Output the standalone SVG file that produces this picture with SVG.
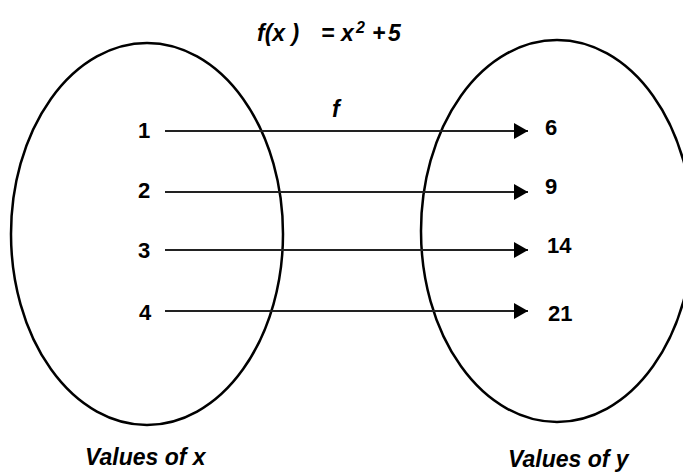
<svg xmlns="http://www.w3.org/2000/svg" width="683" height="473" viewBox="0 0 683 473">
<defs>
<marker id="ah" markerWidth="14" markerHeight="16" refX="14" refY="8" orient="auto" markerUnits="userSpaceOnUse">
<path d="M0,0 L14,8 L0,16 Z" fill="#000"/>
</marker>
<style>
.set{fill:none;stroke:#000;stroke-width:2.5}
.num{font-family:"Liberation Sans",Arial,sans-serif;font-weight:bold;font-size:22px;fill:#000}
.lab{font-family:"Liberation Sans",Arial,sans-serif;font-weight:bold;font-style:italic;font-size:23px;fill:#000}
.ttl{font-family:"Liberation Sans",Arial,sans-serif;font-weight:bold;font-style:italic;font-size:23px;fill:#000}
.sup{font-size:16px}
.conn{stroke:#222;stroke-width:2;fill:none;marker-end:url(#ah)}
</style>
</defs>
<rect width="683" height="473" fill="#fff"/>
<g id="title">
<text class="ttl" x="257" y="41">f(x )</text>
<text class="ttl" x="321" y="41">=</text>
<text class="ttl" x="341" y="41">x</text>
<text class="ttl sup" x="356" y="33">2</text>
<text class="ttl" x="372" y="41">+</text>
<text class="ttl" x="388" y="41">5</text>
</g>
<g id="setX">
<ellipse class="set" cx="147" cy="234" rx="136" ry="191"/>
<text class="lab" x="85" y="465">Values of x</text>
</g>
<g id="setY">
<ellipse class="set" cx="557" cy="231" rx="136" ry="191"/>
<text class="lab" x="508" y="467">Values of y</text>
</g>
<g id="x1"><text class="num" x="138" y="138">1</text></g>
<g id="x2"><text class="num" x="138" y="198">2</text></g>
<g id="x3"><text class="num" x="138" y="258">3</text></g>
<g id="x4"><text class="num" x="139" y="320">4</text></g>
<g id="y6"><text class="num" x="545" y="135">6</text></g>
<g id="y9"><text class="num" x="545" y="194">9</text></g>
<g id="y14"><text class="num" x="547" y="253">14</text></g>
<g id="y21"><text class="num" x="548" y="321">21</text></g>
<g id="connectors">
<line class="conn" x1="165" y1="131" x2="528" y2="131"/>
<line class="conn" x1="165" y1="192" x2="528" y2="192"/>
<line class="conn" x1="165" y1="250" x2="528" y2="250"/>
<line class="conn" x1="165" y1="311" x2="528" y2="311"/>
<text class="ttl" x="332" y="117">f</text>
</g>
</svg>
